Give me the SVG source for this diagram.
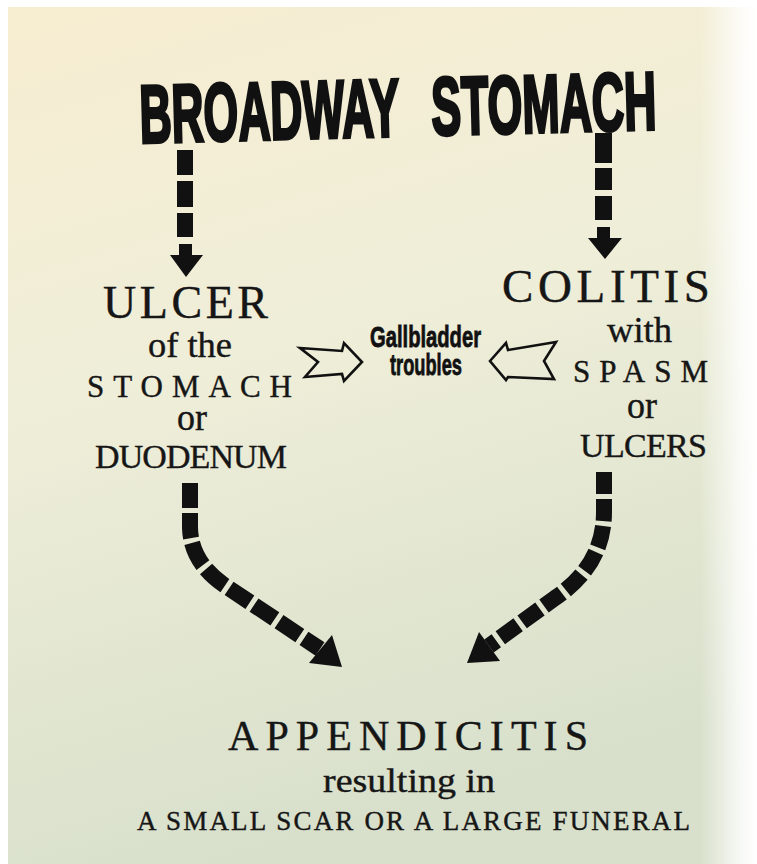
<svg xmlns="http://www.w3.org/2000/svg" width="757" height="864" viewBox="0 0 757 864">
<defs>
<linearGradient id="bg" x1="0" y1="0" x2="0.25" y2="1">
<stop offset="0" stop-color="#f7edd1"/>
<stop offset="0.45" stop-color="#efeed9"/>
<stop offset="1" stop-color="#d8e0cb"/>
</linearGradient>
<linearGradient id="fade" x1="0" y1="0" x2="1" y2="0">
<stop offset="0" stop-color="#ffffff" stop-opacity="0"/>
<stop offset="0.7" stop-color="#ffffff" stop-opacity="0.8"/>
<stop offset="1" stop-color="#ffffff" stop-opacity="1"/>
</linearGradient>
<style>
.title{font-family:"Liberation Sans",Arial,sans-serif;font-weight:bold;font-size:82px;fill:#111;stroke:#111;stroke-width:3.5}
.serif{font-family:"Liberation Serif","Times New Roman",serif;fill:#161616;stroke:#161616;stroke-width:0.4}
.sans{font-family:"Liberation Sans",Arial,sans-serif;font-weight:bold;fill:#111;stroke:#111;stroke-width:0.8}
.dash{fill:none;stroke:#111;stroke-width:16}
.head{fill:#111}
.hollow{fill:none;stroke:#111;stroke-width:2.6;stroke-linejoin:miter}
</style>
</defs>
<rect x="0" y="0" width="757" height="864" fill="#ffffff"/>
<rect x="8" y="7" width="749" height="857" fill="url(#bg)"/>
<rect x="700" y="0" width="57" height="864" fill="url(#fade)"/>

<g id="title">
<g transform="rotate(-1.5 398 132)">
<text class="title" x="140" y="136" textLength="260" lengthAdjust="spacingAndGlyphs">BROADWAY</text>
<text class="title" x="432" y="136" textLength="225" lengthAdjust="spacingAndGlyphs">STOMACH</text>
</g>
</g>

<g id="ulcer">
<text class="serif" x="103" y="318" font-size="46" textLength="165" lengthAdjust="spacing">ULCER</text>
<text class="serif" x="148" y="357" font-size="36" textLength="84" lengthAdjust="spacingAndGlyphs">of the</text>
<text class="serif" x="87" y="397" font-size="31" textLength="205" lengthAdjust="spacing">STOMACH</text>
<text class="serif" x="177" y="430" font-size="37" textLength="30" lengthAdjust="spacingAndGlyphs">or</text>
<text class="serif" x="95" y="468" font-size="34" textLength="192" lengthAdjust="spacing">DUODENUM</text>
</g>

<g id="colitis">
<text class="serif" x="502" y="302" font-size="47" textLength="208" lengthAdjust="spacing">COLITIS</text>
<text class="serif" x="607" y="342" font-size="36" textLength="65" lengthAdjust="spacingAndGlyphs">with</text>
<text class="serif" x="573" y="382" font-size="31" textLength="135" lengthAdjust="spacing">SPASM</text>
<text class="serif" x="627" y="418" font-size="37" textLength="30" lengthAdjust="spacingAndGlyphs">or</text>
<text class="serif" x="580" y="457" font-size="34" textLength="127" lengthAdjust="spacing">ULCERS</text>
</g>

<g id="gallbladder">
<text class="sans" x="370" y="347" font-size="30" textLength="111" lengthAdjust="spacingAndGlyphs">Gallbladder</text>
<text class="sans" x="390" y="375" font-size="30" textLength="72" lengthAdjust="spacingAndGlyphs">troubles</text>
</g>

<g id="appendicitis">
<text class="serif" x="228" y="750" font-size="42" textLength="360" lengthAdjust="spacing">APPENDICITIS</text>
<text class="serif" x="323" y="792" font-size="33" textLength="172" lengthAdjust="spacingAndGlyphs">resulting in</text>
<text class="serif" x="137" y="830" font-size="27" textLength="553" lengthAdjust="spacing">A SMALL SCAR OR A LARGE FUNERAL</text>
</g>

<g id="connectors">
<rect class="head" x="177" y="150" width="16" height="25"/>
<rect class="head" x="177" y="181" width="16" height="26"/>
<rect class="head" x="177" y="213" width="16" height="24"/>
<rect class="head" x="179" y="244" width="13" height="12"/>
<polygon class="head" points="170,255 203,255 186,277"/>
<rect class="head" x="595" y="133" width="17" height="30"/>
<rect class="head" x="595" y="168" width="17" height="22"/>
<rect class="head" x="595" y="196" width="17" height="24"/>
<rect class="head" x="597" y="227" width="13" height="12"/>
<polygon class="head" points="588,238 622,238 605,259"/>
<path class="dash" d="M190,483 L190,528 Q191,562 224,585 L320,649" stroke-dasharray="25 5"/>
<polygon class="head" points="342,667 309,663 332,635"/>
<path class="dash" d="M604,472 L604,512 Q604,565 555,598 L489,646" stroke-dasharray="22 5"/>
<polygon class="head" points="467,663 500,661 479,632"/>
<polygon class="hollow" points="300,348 342,351 344,343 362,362 344,381 342,374 305,377 318,362"/>
<polygon class="hollow" points="490,361 506,343 508,350 556,342 544,361 554,379 508,377 506,380"/>
</g>
</svg>
